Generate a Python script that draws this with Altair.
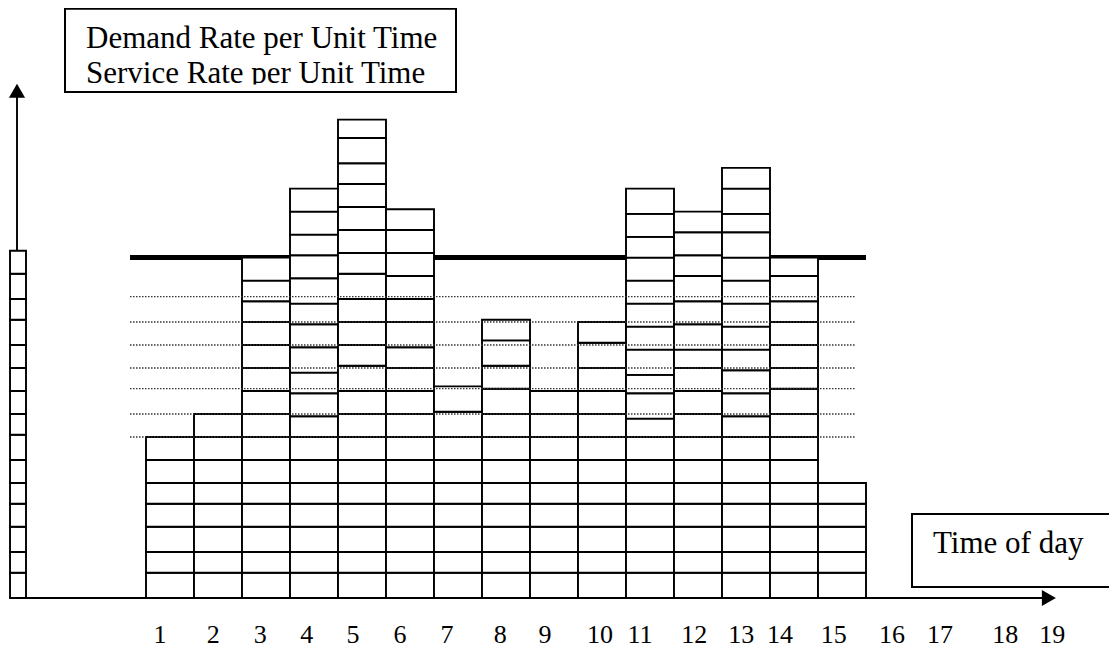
import altair as alt
import pandas as pd

# ---- data ----
hours = list(range(1, 16))

# common lower cells (demand up to ~7 units) shared by most hours
BASE = [1.1, 2.0, 3.1, 4.1, 5.0, 6.0, 7.0]

h1 = BASE
h2 = BASE + [8.0]
h3 = BASE + [8.0, 9.0, 10.0, 11.0, 12.0, 12.9, 13.8, 14.8]
h4 = BASE + [7.9, 8.9, 9.8, 10.9, 11.9, 12.8, 13.9, 14.9, 15.8, 16.8, 17.8]
h5 = BASE + [8.0, 9.0, 10.1, 11.0, 12.0, 13.0, 14.1, 15.0, 16.0, 17.0, 18.0, 18.9, 20.0, 20.8]
h6 = BASE + [8.0, 9.0, 10.0, 10.9, 12.0, 13.0, 14.0, 15.0, 16.0, 16.9]
h7 = BASE + [8.1, 9.2]
h8 = BASE + [8.0, 9.1, 10.1, 11.2, 12.1]
h9 = BASE + [8.0, 9.0]
h10 = BASE + [8.0, 9.0, 10.0, 11.1, 12.0]
h11 = BASE + [7.8, 8.9, 9.7, 10.8, 11.8, 12.8, 13.8, 14.8, 15.7, 16.7, 17.8]
h12 = BASE + [8.0, 9.0, 10.0, 10.8, 11.9, 12.9, 14.0, 14.9, 15.9, 16.8]
h13 = BASE + [7.9, 8.9, 9.9, 10.8, 11.8, 12.8, 13.8, 14.8, 15.9, 16.7, 17.8, 18.7]
h14 = BASE + [8.0, 9.1, 10.0, 11.0, 12.0, 12.9, 14.0, 14.8]
h15 = [1.1, 2.0, 3.1, 4.1, 5.0]
demand_tops = [h1, h2, h3, h4, h5, h6, h7, h8, h9, h10, h11, h12, h13, h14, h15]

# unit ruler at the left (service-rate scale)
ruler_tops = [1.1, 2.0, 3.1, 4.1, 5.0, 6.0, 7.1, 8.0, 9.0, 10.0, 11.0, 12.1, 13.0, 14.1, 15.1]

service_rate = 14.8
dotted_levels = [13.1, 12.0, 11.0, 10.0, 9.1, 8.0, 7.0]

tick_labels = [str(i) for i in range(1, 20)]
tick_pos = [1.29, 2.40, 3.38, 4.35, 5.31, 6.29, 7.27, 8.38, 9.31, 10.46,
            11.29, 12.42, 13.40, 14.21, 15.33, 16.54, 17.54, 18.90, 19.88]

# ---- tables built from the arrays ----
seg_rows = []
for h, tops in zip(hours, demand_tops):
    prev = 0.0
    for t in tops:
        seg_rows.append({"x0": h, "x1": h + 1, "y0": prev, "y1": t})
        prev = t
segs = pd.DataFrame(seg_rows)

ruler_rows = []
prev = 0.0
for t in ruler_tops:
    ruler_rows.append({"x0": -1.833, "x1": -1.5, "y0": prev, "y1": t})
    prev = t
ruler = pd.DataFrame(ruler_rows)

service = pd.DataFrame({"x0": [0.667], "x1": [16.0], "y0": [service_rate]})
dotted = pd.DataFrame({"x0": 0.667, "x1": 15.77, "y0": dotted_levels})
ticks = pd.DataFrame({"x0": tick_pos, "y0": -1.957, "label": tick_labels})

xs = alt.Scale(domain=[-1.875, 21.0625], nice=False, zero=False)
ys = alt.Scale(domain=[-2.174, 25.652], nice=False, zero=False)

X = lambda f: alt.X(f, scale=xs, axis=None)
Y = lambda f: alt.Y(f, scale=ys, axis=None)

FONT = "Liberation Serif"
one = pd.DataFrame({"a": [0]})

service_layer = alt.Chart(service).mark_rule(color="black", strokeWidth=5).encode(
    x=X("x0:Q"), x2="x1:Q", y=Y("y0:Q"))

bars = alt.Chart(segs).mark_rect(fill="white", stroke="black", strokeWidth=1.9).encode(
    x=X("x0:Q"), x2="x1:Q", y=Y("y0:Q"), y2="y1:Q")

ruler_layer = alt.Chart(ruler).mark_rect(fill="white", stroke="black", strokeWidth=1.9).encode(
    x=X("x0:Q"), x2="x1:Q", y=Y("y0:Q"), y2="y1:Q")

dotted_layer = alt.Chart(dotted).mark_rule(color="#333", strokeWidth=1.3, strokeDash=[1.5, 1.5]).encode(
    x=X("x0:Q"), x2="x1:Q", y=Y("y0:Q"))

axis_h = alt.Chart(pd.DataFrame({"x0": [-1.833], "x1": [19.7], "y0": [0.0]})).mark_rule(
    color="black", strokeWidth=1.9).encode(x=X("x0:Q"), x2="x1:Q", y=Y("y0:Q"))
axis_v = alt.Chart(pd.DataFrame({"x0": [-1.6875], "y0": [15.1], "y1": [21.8]})).mark_rule(
    color="black", strokeWidth=1.9).encode(x=X("x0:Q"), y=Y("y0:Q"), y2="y1:Q")

arrow_r = alt.Chart(pd.DataFrame({"x0": [19.81], "y0": [0.0]})).mark_point(
    shape="triangle-right", filled=True, color="black", size=260, opacity=1).encode(
    x=X("x0:Q"), y=Y("y0:Q"))
arrow_u = alt.Chart(pd.DataFrame({"x0": [-1.6875], "y0": [22.05]})).mark_point(
    shape="triangle-up", filled=True, color="black", size=260, opacity=1).encode(
    x=X("x0:Q"), y=Y("y0:Q"))

tick_layer = alt.Chart(ticks).mark_text(font=FONT, fontSize=26, color="black",
                                        align="center", baseline="alphabetic").encode(
    x=X("x0:Q"), y=Y("y0:Q"), text="label:N")

# annotation boxes (pixel layout)
top_box = alt.Chart(one).mark_rect(fill="white", stroke="black", strokeWidth=2).encode(
    x=alt.value(57), x2=alt.value(448), y=alt.value(0.5), y2=alt.value(84))
top_t1 = alt.Chart(one).mark_text(font=FONT, fontSize=31, color="black", align="left",
                                  baseline="alphabetic").encode(
    x=alt.value(78), y=alt.value(40), text=alt.value("Demand Rate per Unit Time"))
top_t2 = alt.Chart(one).mark_text(font=FONT, fontSize=31, color="black", align="left",
                                  baseline="alphabetic").encode(
    x=alt.value(78), y=alt.value(75), text=alt.value("Service Rate per Unit Time"))
top_band = alt.Chart(one).mark_rect(fill="white").encode(
    x=alt.value(59), x2=alt.value(446), y=alt.value(76.5), y2=alt.value(83))
top_border = alt.Chart(one).mark_rect(fill=None, stroke="black", strokeWidth=2).encode(
    x=alt.value(57), x2=alt.value(448), y=alt.value(0.5), y2=alt.value(84))

# "Time of day" box runs off the right edge: white fill plus top, bottom and left edges
tod_fill = alt.Chart(one).mark_rect(fill="white").encode(
    x=alt.value(904), x2=alt.value(1160), y=alt.value(506), y2=alt.value(579))
tod_top = alt.Chart(one).mark_rule(color="black", strokeWidth=2).encode(
    x=alt.value(904), x2=alt.value(1160), y=alt.value(506))
tod_bottom = alt.Chart(one).mark_rule(color="black", strokeWidth=2).encode(
    x=alt.value(904), x2=alt.value(1160), y=alt.value(579))
tod_left = alt.Chart(one).mark_rule(color="black", strokeWidth=2).encode(
    x=alt.value(904), y=alt.value(505), y2=alt.value(580))
tod_text = alt.Chart(one).mark_text(font=FONT, fontSize=31, color="black", align="left",
                                    baseline="alphabetic").encode(
    x=alt.value(925), y=alt.value(545), text=alt.value("Time of day"))

chart = alt.layer(
    service_layer, bars, ruler_layer, dotted_layer, axis_h, axis_v, arrow_r, arrow_u,
    tick_layer, top_box, top_t1, top_t2, top_band, top_border,
    tod_fill, tod_top, tod_bottom, tod_left, tod_text
).properties(
    width=1101, height=640,
    autosize=alt.AutoSizeParams(type="none"),
    padding=0,
    background="white",
).configure_view(stroke=None)

chart.save("out.html", embed_options={"renderer": "svg", "actions": False})
